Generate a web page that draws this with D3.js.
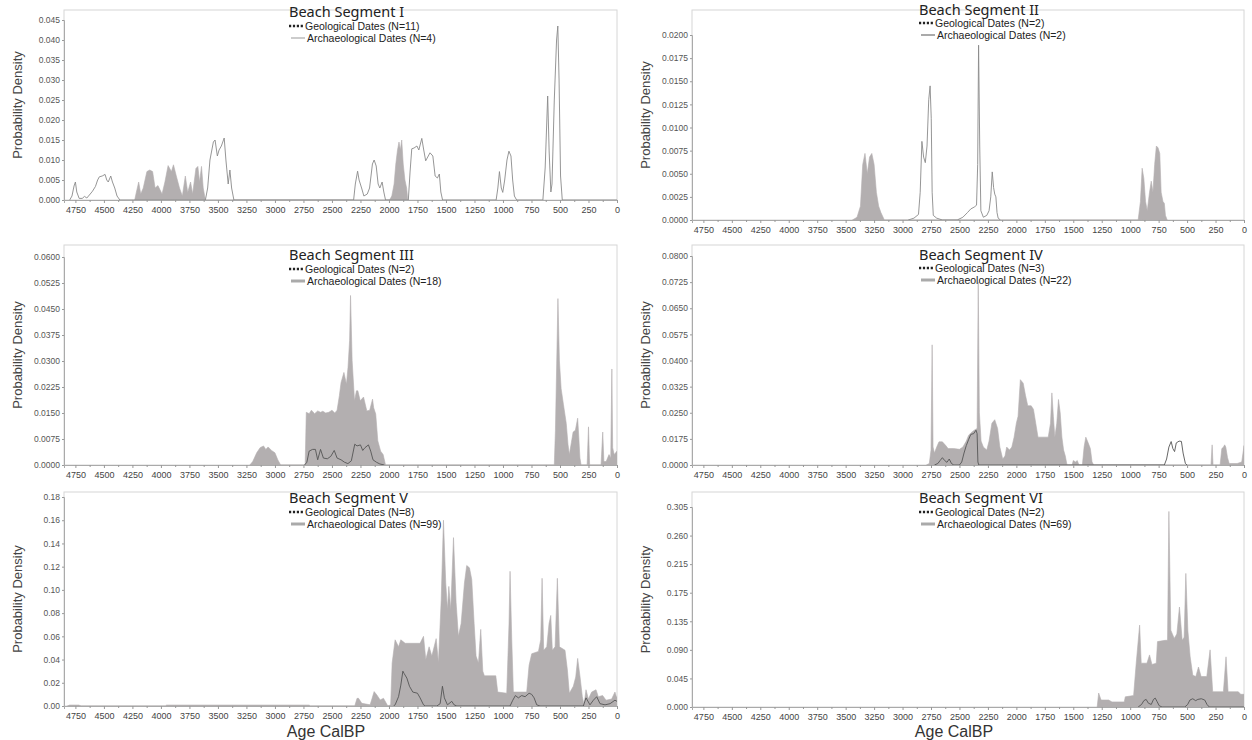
<!DOCTYPE html>
<html>
<head>
<meta charset="utf-8">
<script src="https://cdn.jsdelivr.net/npm/d3@7"></script>
<style>
body { margin: 0; background: #fff; }
svg { display: block; }
</style>
</head>
<body>
<svg id="chart" width="1252" height="740"></svg>
<script>
// age ticks shared by every panel
var xTicks = [4750, 4500, 4250, 4000, 3750, 3500, 3250, 3000, 2750, 2500, 2250, 2000, 1750, 1500, 1250, 1000, 750, 500, 250, 0];

var titles = ["Beach Segment I", "Beach Segment II", "Beach Segment III", "Beach Segment IV", "Beach Segment V", "Beach Segment VI"];
var geoN = [11, 2, 2, 3, 8, 2];
var archN = [4, 2, 18, 22, 99, 69];

// y tick labels as printed (some axes are uneven)
var seg1YTicks = ["0.000", "0.005", "0.010", "0.015", "0.020", "0.025", "0.030", "0.035", "0.040", "0.045"];
var seg2YTicks = ["0.0000", "0.0025", "0.0050", "0.0075", "0.0100", "0.0125", "0.0150", "0.0175", "0.0200"];
var seg3YTicks = ["0.0000", "0.0075", "0.0150", "0.0225", "0.0300", "0.0375", "0.0450", "0.0525", "0.0600"];
var seg4YTicks = ["0.0000", "0.0175", "0.0250", "0.0325", "0.0400", "0.0575", "0.0650", "0.0725", "0.0800"];
var seg5YTicks = ["0.00", "0.02", "0.04", "0.06", "0.08", "0.10", "0.12", "0.14", "0.16", "0.18"];
var seg6YTicks = ["0.000", "0.045", "0.090", "0.135", "0.175", "0.215", "0.260", "0.305"];

// [age calBP, probability density]
var seg1Geo = [[4800,0],[4780,0.001],[4762,0.0035],[4750,0.0045],[4738,0.002],[4717,0.0004],[4690,0.0004],[4670,0.0009],[4650,0.0005],[4620,0.0015],[4600,0.0022],[4574,0.0034],[4555,0.005],[4540,0.0058],[4515,0.006],[4490,0.0064],[4475,0.005],[4462,0.0045],[4440,0.006],[4425,0.0045],[4405,0.003],[4385,0.001],[4360,0],
  [3610,0],[3590,0.003],[3570,0.01],[3540,0.0145],[3525,0.015],[3505,0.011],[3490,0.0125],[3470,0.0135],[3445,0.0155],[3430,0.01],[3410,0.004],[3395,0.0075],[3380,0.003],[3360,0],
  [2310,0],[2295,0.004],[2275,0.0072],[2262,0.005],[2240,0.003],[2220,0.001],[2190,0.0015],[2170,0.003],[2145,0.009],[2130,0.01],[2112,0.0085],[2095,0.004],[2080,0.003],[2060,0.0045],[2045,0.002],[2030,0],
  [1830,0],[1815,0.007],[1800,0.0128],[1780,0.013],[1755,0.0135],[1738,0.0125],[1712,0.0154],[1695,0.0125],[1678,0.0098],[1655,0.011],[1640,0.0118],[1615,0.011],[1595,0.006],[1575,0.0055],[1558,0.0065],[1545,0.002],[1530,0],
  [1060,0],[1045,0.003],[1031,0.0071],[1015,0.003],[1002,0.0019],[985,0.005],[965,0.01],[948,0.0122],[930,0.011],[915,0.005],[900,0.001],[880,0],
  [650,0],[630,0.008],[608,0.026],[595,0.012],[580,0.002],[570,0.004],[550,0.025],[530,0.04],[519,0.0435],[508,0.03],[495,0.006],[480,0],[0,0]];
var seg1Arch = [[4230,0],[4215,0.002],[4195,0.0045],[4177,0.0015],[4155,0.003],[4123,0.0071],[4098,0.0075],[4073,0.0071],[4051,0.003],[4026,0.0036],[3990,0.0015],[3965,0.0045],[3937,0.0086],[3908,0.0071],[3890,0.0088],[3865,0.006],[3837,0.003],[3812,0.001],[3786,0.006],[3765,0.0019],[3740,0.0045],[3722,0.0015],[3693,0.0079],[3676,0.0084],[3661,0.0045],[3644,0.0084],[3629,0.003],[3610,0],
  [1995,0],[1975,0.001],[1955,0.004],[1940,0.009],[1925,0.0125],[1912,0.0145],[1900,0.0125],[1888,0.015],[1875,0.009],[1860,0.005],[1845,0.003],[1835,0]];

var seg2Geo = [[2950,0],[2900,0.0002],[2860,0.0006],[2845,0.003],[2830,0.0085],[2815,0.0068],[2800,0.0062],[2785,0.008],[2770,0.013],[2758,0.0145],[2748,0.011],[2740,0.003],[2730,0.0005],[2700,0.0002],[2650,0],
  [2520,0],[2470,0.0003],[2430,0.0008],[2400,0.0012],[2370,0.0014],[2350,0.0016],[2340,0.006],[2332,0.0189],[2322,0.008],[2312,0.001],[2290,0.0003],[2260,0.0005],[2240,0.001],[2225,0.0025],[2212,0.0052],[2200,0.0035],[2190,0.0028],[2180,0.0025],[2170,0.0008],[2160,0.0002],[2140,0]];
var seg2Arch = [[3440,0],[3400,0.0003],[3370,0.0015],[3350,0.006],[3330,0.0072],[3310,0.005],[3290,0.0068],[3270,0.0072],[3250,0.006],[3230,0.003],[3210,0.0015],[3190,0.0008],[3160,0],
  [930,0],[910,0.002],[895,0.0056],[880,0.0045],[865,0.002],[850,0.001],[830,0.003],[815,0.0042],[800,0.003],[785,0.006],[770,0.008],[755,0.0078],[740,0.0072],[728,0.003],[712,0.002],[700,0.0018],[690,0.0005],[675,0]];

var seg3Geo = [[2740,0],[2720,0.0008],[2700,0.004],[2670,0.0045],[2645,0.0045],[2625,0.0015],[2600,0.0045],[2575,0.002],[2540,0.0018],[2510,0.0025],[2480,0.0042],[2455,0.002],[2420,0.0015],[2390,0.0008],[2360,0.0004],[2330,0.0012],[2300,0.006],[2280,0.0055],[2250,0.0058],[2230,0.0042],[2210,0.005],[2180,0.0058],[2160,0.004],[2140,0.0015],[2110,0.0008],[2080,0.0003],[2040,0]];
var seg3Arch = [[3220,0],[3195,0.001],[3160,0.0035],[3130,0.005],[3100,0.0055],[3080,0.0045],[3060,0.0052],[3030,0.0042],[3000,0.0035],[2975,0.0015],[2950,0],
  [2735,0],[2725,0.0152],[2700,0.0148],[2680,0.0158],[2652,0.0148],[2625,0.0156],[2600,0.0152],[2580,0.0155],[2555,0.015],[2527,0.0152],[2500,0.0158],[2475,0.015],[2455,0.0158],[2435,0.02],[2420,0.0238],[2395,0.0267],[2373,0.0233],[2359,0.0282],[2345,0.036],[2337,0.0489],[2323,0.0301],[2302,0.0185],[2285,0.0214],[2273,0.0214],[2252,0.0185],[2223,0.0196],[2194,0.0156],[2169,0.0158],[2144,0.019],[2134,0.0165],[2116,0.0147],[2105,0.01],[2098,0.007],[2073,0.004],[2051,0.003],[2030,0],
  [550,0],[540,0.01],[518,0.048],[505,0.03],[490,0.022],[470,0.0175],[445,0.012],[430,0.006],[418,0.003],[400,0.0065],[385,0.0095],[365,0.01],[345,0.0135],[335,0.008],[325,0.002],[315,0],[262,0],[250,0.011],[240,0],[140,0],[125,0.0095],[115,0.001],[95,0.001],[70,0.003],[55,0.002],[45,0.0277],[38,0.005],[25,0.003],[0,0.004]];

var seg4Geo = [[2720,0],[2690,0.001],[2670,0.003],[2650,0.0049],[2630,0.003],[2610,0.0018],[2590,0.004],[2570,0.001],[2550,0],[2500,0],[2480,0.002],[2460,0.008],[2440,0.013],[2420,0.017],[2400,0.0188],[2375,0.019],[2355,0.02],[2345,0.019],[2338,0.002],[2330,0],
  [700,0],[680,0.004],[660,0.012],[640,0.0157],[625,0.011],[610,0.009],[595,0.0148],[570,0.016],[550,0.0158],[535,0.008],[515,0.001],[500,0]];
var seg4Arch = [[2790,0],[2765,0.001],[2750,0.01],[2740,0.0505],[2732,0.012],[2720,0.008],[2700,0.012],[2680,0.0155],[2650,0.0155],[2620,0.013],[2600,0.011],[2550,0.011],[2500,0.0105],[2470,0.012],[2440,0.016],[2420,0.0185],[2400,0.0192],[2370,0.02],[2345,0.0205],[2335,0.0725],[2325,0.025],[2310,0.016],[2290,0.012],[2260,0.01],[2240,0.016],[2215,0.022],[2190,0.023],[2165,0.0205],[2145,0.012],[2120,0.004],[2100,0.006],[2085,0.012],[2060,0.01],[2040,0.012],[2020,0.018],[2000,0.022],[1985,0.024],[1965,0.0345],[1940,0.0335],[1920,0.03],[1900,0.027],[1870,0.027],[1850,0.026],[1830,0.022],[1810,0.018],[1760,0.018],[1720,0.018],[1700,0.022],[1688,0.0307],[1675,0.024],[1662,0.018],[1645,0.022],[1630,0.0288],[1615,0.025],[1600,0.018],[1585,0.01],[1570,0.006],[1555,0],
  [1510,0],[1500,0.003],[1480,0.002],[1465,0.003],[1450,0],[1420,0],[1405,0.012],[1390,0.018],[1370,0.015],[1350,0.011],[1335,0.002],[1320,0],
  [290,0],[280,0.0135],[272,0],[210,0],[195,0.011],[180,0.012],[170,0.0135],[160,0.012],[145,0.005],[130,0.001],[60,0.001],[20,0.002],[5,0.01],[0,0.013]];

var seg5Geo = [[1960,0],[1946,0.001],[1916,0.008],[1896,0.018],[1878,0.03],[1867,0.028],[1843,0.024],[1820,0.017],[1791,0.012],[1750,0.011],[1727,0.007],[1697,0.001],[1680,0],
  [1580,0],[1551,0.002],[1531,0.017],[1514,0.007],[1487,0.001],[1449,0.004],[1429,0.001],[1405,0],
  [938,0],[914,0.005],[891,0.009],[865,0.007],[836,0.009],[806,0.008],[771,0.011],[748,0.01],[727,0.007],[704,0.001],[675,0],
  [295,0],[272,0.007],[237,0.001],[207,0.005],[178,0.008],[149,0.002],[105,0.001],[61,0.002],[18,0.005],[0,0.004]];
var seg5Arch = [[4820,0],[4800,0.0008],[4720,0.0008],[4700,0],[3960,0],[3950,0.0008],[2700,0.0008],[2690,0],
  [2300,0],[2280,0.0066],[2267,0.0066],[2238,0.0023],[2165,0.001],[2130,0.0124],[2106,0.0095],[2077,0.0052],[2048,0.0066],[2010,0],[1985,0.001],[1972,0.037],[1946,0.057],[1916,0.051],[1896,0.057],[1858,0.054],[1814,0.054],[1727,0.054],[1697,0.06],[1677,0.04],[1648,0.051],[1624,0.043],[1586,0.058],[1566,0.037],[1542,0.091],[1522,0.16],[1502,0.106],[1487,0.083],[1475,0.103],[1458,0.083],[1434,0.145],[1411,0.089],[1391,0.06],[1367,0.071],[1338,0.106],[1318,0.121],[1294,0.119],[1274,0.109],[1253,0.071],[1236,0.043],[1215,0.037],[1195,0.066],[1177,0.03],[1163,0.026],[1063,0.026],[1046,0.012],[967,0.011],[947,0.071],[938,0.116],[923,0.057],[909,0.012],[792,0.012],[771,0.035],[748,0.045],[689,0.047],[669,0.057],[657,0.11],[643,0.048],[616,0.051],[596,0.071],[581,0.078],[567,0.048],[543,0.051],[523,0.11],[505,0.051],[456,0.048],[435,0.031],[418,0.011],[383,0.017],[362,0.025],[345,0.041],[324,0.025],[304,0.008],[289,0.001],[272,0.014],[251,0.006],[222,0.012],[184,0.014],[164,0.008],[126,0.009],[96,0.005],[47,0.006],[18,0.012],[3,0.007],[0,0.008]];

var seg6Geo = [[930,0],[900,0.004],[880,0.01],[860,0.012],[840,0.006],[815,0.004],[795,0.012],[780,0.014],[765,0.009],[745,0.002],[720,0],[520,0],[495,0.004],[475,0.011],[450,0.013],[425,0.01],[405,0.012],[375,0.013],[345,0.011],[325,0.004],[305,0],[0,0]];
var seg6Arch = [[1290,0],[1277,0.022],[1256,0.011],[1189,0.011],[1160,0.008],[1052,0.008],[1043,0.016],[970,0.018],[947,0.069],[917,0.129],[903,0.069],[853,0.069],[830,0.082],[809,0.067],[771,0.069],[760,0.103],[692,0.105],[672,0.105],[660,0.298],[643,0.121],[613,0.108],[590,0.115],[567,0.155],[543,0.105],[526,0.11],[511,0.202],[493,0.12],[473,0.079],[450,0.05],[423,0.048],[400,0.063],[377,0.048],[327,0.048],[298,0.09],[275,0.024],[181,0.024],[158,0.079],[140,0.024],[50,0.024],[29,0.02],[5,0.02],[0,0.02]];

var panels = [
  {x0: 64, x1: 617, top: 10, bottom: 200, tickTop: 20, yTicks: seg1YTicks, geo: seg1Geo, arch: seg1Arch, geoColor: "#8a8a8a", archKey: 1, ty: [13, 26, 38], lx: 289, xTitle: false},
  {x0: 692, x1: 1244, top: 10, bottom: 220, tickTop: 35, yTicks: seg2YTicks, geo: seg2Geo, arch: seg2Arch, geoColor: "#8a8a8a", archKey: 2, ty: [11, 23, 35], lx: 919, xTitle: false},
  {x0: 64, x1: 617, top: 245, bottom: 465, tickTop: 257, yTicks: seg3YTicks, geo: seg3Geo, arch: seg3Arch, geoColor: "#555", archKey: 3, ty: [256, 269, 281], lx: 289, xTitle: false},
  {x0: 692, x1: 1244, top: 245, bottom: 465, tickTop: 256, yTicks: seg4YTicks, geo: seg4Geo, arch: seg4Arch, geoColor: "#555", archKey: 3, ty: [256, 268, 280], lx: 919, xTitle: false},
  {x0: 64, x1: 617, top: 492, bottom: 706, tickTop: 497, yTicks: seg5YTicks, geo: seg5Geo, arch: seg5Arch, geoColor: "#555", archKey: 3, ty: [499, 512, 524], lx: 289, xTitle: true},
  {x0: 692, x1: 1244, top: 492, bottom: 707, tickTop: 507, yTicks: seg6YTicks, geo: seg6Geo, arch: seg6Arch, geoColor: "#555", archKey: 3, ty: [499, 512, 524], lx: 919, xTitle: true}
];

var svg = d3.select("#chart");
var fillColor = "#b3afb0";

panels.forEach(function (p, k) {
    var g = svg.append("g");

    var x = d3.scaleLinear().domain([4850, 0]).range([p.x0, p.x1]);
    var yVals = p.yTicks.map(Number);
    var step = (p.bottom - p.tickTop) / (yVals.length - 1);
    var y = d3.scaleLinear()
        .domain(yVals)
        .range(yVals.map(function (d, i) { return p.bottom - i * step; }));

    var clipId = "clip" + k;
    g.append("clipPath").attr("id", clipId)
        .append("rect")
        .attr("x", p.x0).attr("y", p.top)
        .attr("width", p.x1 - p.x0).attr("height", p.bottom - p.top);

    // frame
    g.append("rect")
        .attr("x", p.x0).attr("y", p.top)
        .attr("width", p.x1 - p.x0).attr("height", p.bottom - p.top)
        .attr("fill", "none")
        .attr("stroke", "#d6d6d6");

    var area = d3.area()
        .x(function (d) { return x(d[0]); })
        .y0(p.bottom)
        .y1(function (d) { return y(d[1]); });

    var line = d3.line()
        .x(function (d) { return x(d[0]); })
        .y(function (d) { return y(d[1]); });

    var plot = g.append("g").attr("clip-path", "url(#" + clipId + ")");

    plot.append("path")
        .datum(p.arch)
        .attr("d", area)
        .attr("fill", fillColor)
        .attr("stroke", fillColor)
        .attr("stroke-width", 0.6);

    plot.append("path")
        .datum(p.geo)
        .attr("d", line)
        .attr("fill", "none")
        .attr("stroke", p.geoColor)
        .attr("stroke-width", 0.9);

    // axes
    var xAxis = g.append("g")
        .attr("transform", "translate(0," + p.bottom + ")")
        .call(d3.axisBottom(x).tickValues(xTicks).tickFormat(d3.format("d")).tickSize(3).tickPadding(4));
    g.append("g")
        .attr("transform", "translate(0," + p.bottom + ")")
        .call(d3.axisBottom(x).tickValues(d3.range(125, 4850, 250)).tickFormat("").tickSize(2))
        .call(function (s) { s.select(".domain").remove(); });

    var yAxis = g.append("g")
        .attr("transform", "translate(" + p.x0 + ",0)")
        .call(d3.axisLeft(y).tickValues(yVals).tickFormat(function (d, i) { return p.yTicks[i]; }).tickSize(2).tickPadding(2));

    g.selectAll(".domain").attr("stroke", "#aaa");
    g.selectAll(".tick line").attr("stroke", "#999");
    xAxis.selectAll("text")
        .attr("fill", "#444")
        .style("font-family", "Liberation Sans, Arial, sans-serif")
        .style("font-size", "9px");
    yAxis.selectAll("text")
        .attr("fill", "#555")
        .style("font-family", "Liberation Sans, Arial, sans-serif")
        .style("font-size", "8.5px");

    // y label
    g.append("text")
        .attr("transform", "translate(" + (p.x0 - 42) + "," + ((p.top + p.bottom) / 2) + ") rotate(-90)")
        .attr("text-anchor", "middle")
        .attr("fill", "#444")
        .style("font-family", "Liberation Sans, Arial, sans-serif")
        .style("font-size", "13px")
        .text("Probability Density");

    if (p.xTitle) {
        g.append("text")
            .attr("x", p.x0 + 262)
            .attr("y", 737)
            .attr("text-anchor", "middle")
            .attr("fill", "#333")
            .style("font-family", "Liberation Sans, Arial, sans-serif")
            .style("font-size", "16px")
            .text("Age CalBP");
    }

    // title and legend
    g.append("text")
        .attr("x", p.lx)
        .attr("y", p.ty[0] + 4)
        .attr("fill", "#222")
        .style("font-family", "Noto Sans, sans-serif")
        .style("font-size", "14.5px")
        .text(titles[k]);

    g.append("line")
        .attr("x1", p.lx).attr("x2", p.lx + 15)
        .attr("y1", p.ty[1]).attr("y2", p.ty[1])
        .attr("stroke", "#222")
        .attr("stroke-width", 2.4)
        .attr("stroke-dasharray", "2.2,1.7");
    g.append("text")
        .attr("x", p.lx + 16)
        .attr("y", p.ty[1] + 4)
        .attr("fill", "#222")
        .style("font-family", "Liberation Sans, Arial, sans-serif")
        .style("font-size", "10.5px")
        .text("Geological Dates (N=" + geoN[k] + ")");

    g.append("line")
        .attr("x1", p.lx + 2).attr("x2", p.lx + 16)
        .attr("y1", p.ty[2]).attr("y2", p.ty[2])
        .attr("stroke", p.archKey === 1 ? "#999" : "#aaa")
        .attr("stroke-width", p.archKey);
    g.append("text")
        .attr("x", p.lx + 18)
        .attr("y", p.ty[2] + 4)
        .attr("fill", "#222")
        .style("font-family", "Liberation Sans, Arial, sans-serif")
        .style("font-size", "10.5px")
        .text("Archaeological Dates (N=" + archN[k] + ")");
});
</script>
</body>
</html>
